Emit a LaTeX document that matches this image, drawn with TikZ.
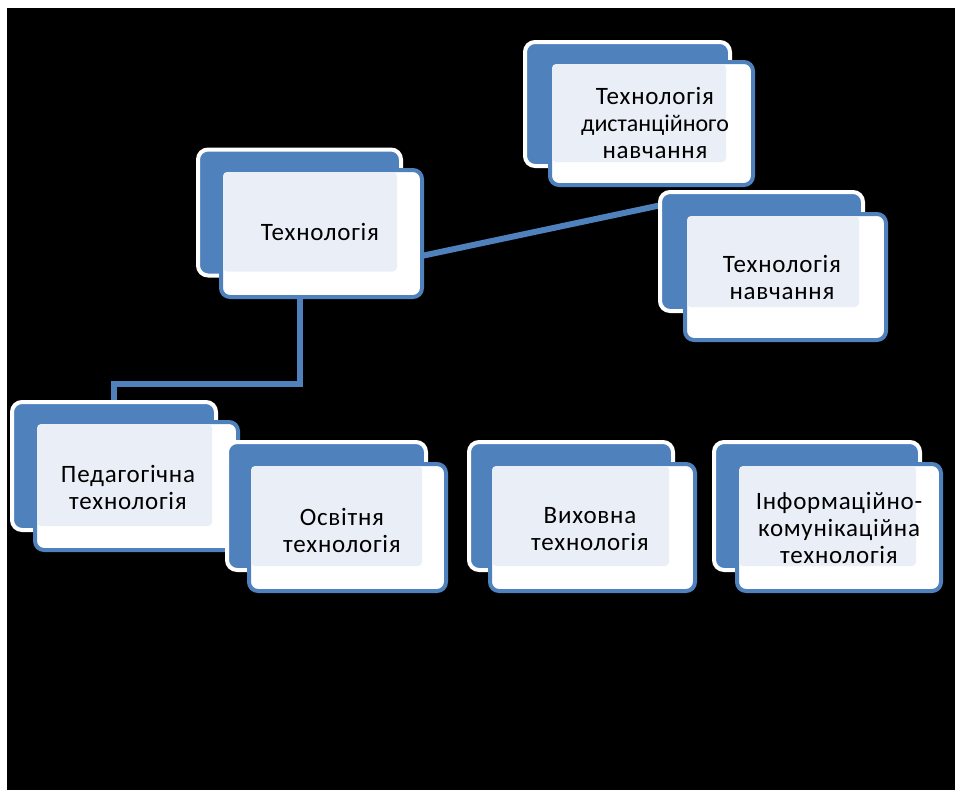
\documentclass[tikz,border=0pt]{standalone}
\usepackage{fontspec}
\setmainfont{Carlito}[LetterSpace=3]
\usetikzlibrary{calc}
\definecolor{accent}{HTML}{4F81BD}
\definecolor{lightfill}{HTML}{EAEFF7}
\tikzset{
  backbox/.style={rectangle, draw=white, line width=4pt, fill=accent, rounded corners=10pt, minimum width=203pt, minimum height=126pt, inner sep=0pt},
  frontbox/.style={rectangle, draw=accent, line width=4pt, fill=white, rounded corners=9pt, minimum width=201pt, minimum height=127pt, inner sep=0pt},
  label/.style={align=center, text=black, font=\fontsize{25}{27}\selectfont, inner sep=0pt},
  conn/.style={draw=accent, line width=6pt}
}
\newcommand{\overlapfill}[2]{\fill[lightfill, rounded corners=4pt] ($(#1.north west)+(4,4)$) rectangle ($(#2.south east)+(-6,-6)$);}
\begin{document}
\begin{tikzpicture}[x=1pt, y=-1pt]
\useasboundingbox (0,0) rectangle (961,793);
\fill[white] (0,0) rectangle (961,793);
\fill[black] (7,8) rectangle (955,790);

% invisible anchors for connectors
\node[backbox, draw=none, fill=none] (t-b0) at (299.5,212.5) {};
\node[backbox, draw=none, fill=none] (ped-b0) at (114,466) {};
\node[backbox, draw=none, fill=none] (tn-b0) at (761.5,251.5) {};
\node[frontbox, draw=none, fill=none] (t-f0) at (321.5,233.5) {};
\draw[conn] (t-b0.center) -- (t-b0.center |- 0,384) -| (ped-b0.center);
\draw[conn] ($(t-f0.east)+(-5,23)$) -- ($(tn-b0.north west)+(6,18)$);

% Технологія
\node[backbox] (t-b) at (299.5,212.5) {};
\node[frontbox] (t-f) at (321.5,233.5) {};
\overlapfill{t-f}{t-b}
\node[label] (t) at (320,232) {Технологія};

% Технологія дистанційного навчання
\node[backbox, minimum width=205pt, minimum height=124pt] (td-b) at (627.5,104) {};
\node[frontbox, minimum width=203pt, minimum height=123pt] (td-f) at (651.5,123.5) {};
\overlapfill{td-f}{td-b}
\node[label] (td) at (655,123) {Технологія\\{\fontsize{24}{27}\selectfont\addfontfeature{LetterSpace=0}дистанційного}\\навчання};

% Технологія навчання
\node[backbox, minimum height=119pt] (tn-b) at (761.5,251.5) {};
\node[frontbox, minimum height=126pt] (tn-f) at (785.5,277) {};
\overlapfill{tn-f}{tn-b}
\node[label] (tn) at (782,277) {Технологія\\навчання};

% Педагогічна технологія
\node[backbox, minimum width=204pt, minimum height=128pt] (ped-b) at (114,466) {};
\node[frontbox, minimum width=203pt, minimum height=128pt] (ped-f) at (136.5,486) {};
\overlapfill{ped-f}{ped-b}
\node[label] (ped) at (128,487) {Педагогічна\\технологія};

% Освітня технологія
\node[backbox, minimum width=199pt, minimum height=128pt] (osv-b) at (326.5,506) {};
\node[frontbox, minimum width=197pt, minimum height=127pt] (osv-f) at (347.5,527.5) {};
\overlapfill{osv-f}{osv-b}
\node[label] (osv) at (342,530) {Освітня\\технологія};

% Виховна технологія
\node[backbox, minimum width=204pt, minimum height=128pt] (vyh-b) at (571,506) {};
\node[frontbox, minimum width=205pt, minimum height=127pt] (vyh-f) at (592.5,527.5) {};
\overlapfill{vyh-f}{vyh-b}
\node[label] (vyh) at (590,529) {Виховна\\технологія};

% Інформаційно-комунікаційна технологія
\node[backbox, minimum width=206pt, minimum height=128pt] (ikt-b) at (817,506) {};
\node[frontbox, minimum width=204pt, minimum height=127pt] (ikt-f) at (839,527.5) {};
\overlapfill{ikt-f}{ikt-b}
\node[label] (ikt) at (839,528) {Інформаційно-\\комунікаційна\\технологія};
\end{tikzpicture}
\end{document}
